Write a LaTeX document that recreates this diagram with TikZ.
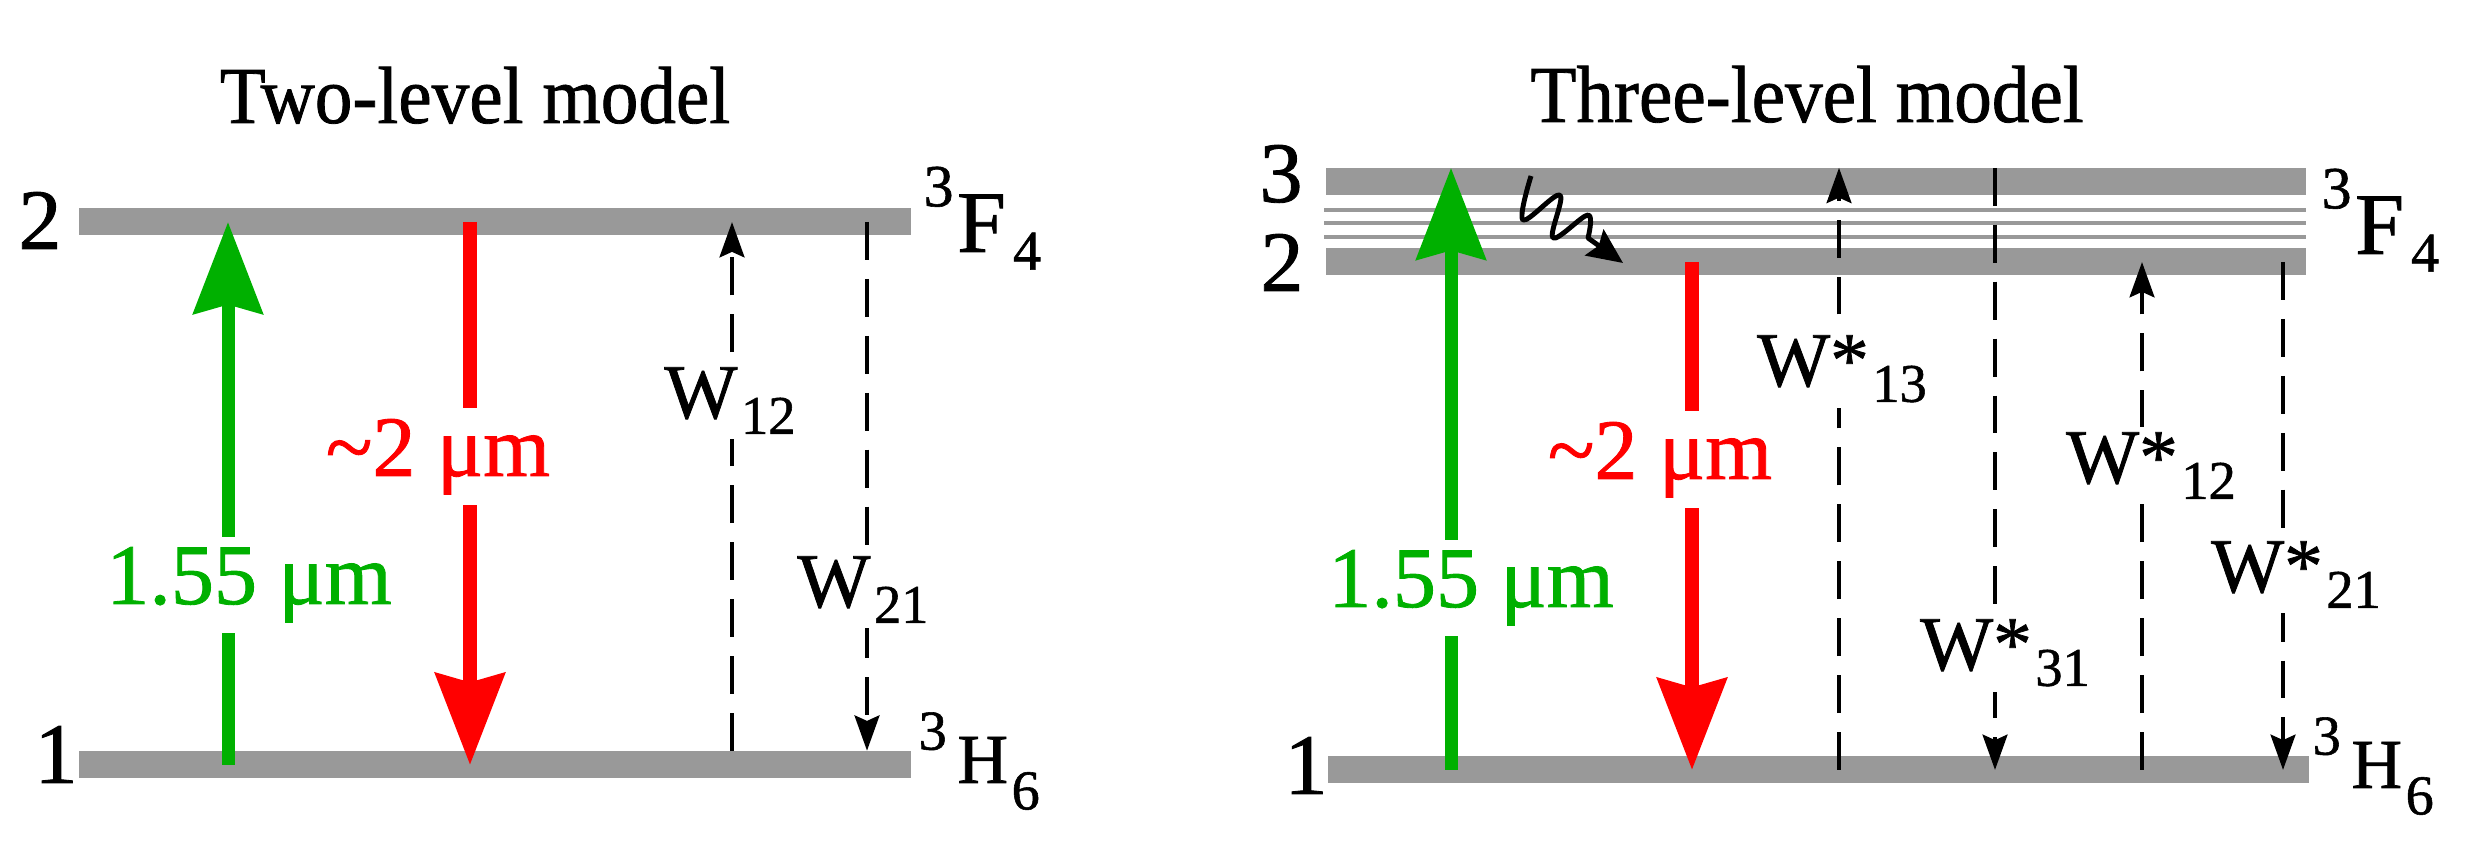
\documentclass[tikz,border=0pt]{standalone}
\usepackage{fontspec}
\setmainfont{Liberation Serif}[FakeBold=1]
\usetikzlibrary{arrows.meta}
\definecolor{level-gray}{HTML}{999999}
\definecolor{pump-green}{HTML}{00B000}
\definecolor{laser-red}{HTML}{FF0000}
\newcommand{\lowidx}[1]{\kern1pt\raisebox{-4.5pt}{\fontsize{15.5}{16}\selectfont #1}}

\begin{document}
\begin{tikzpicture}[
    lvl/.style={rectangle, fill=level-gray, inner sep=0pt, minimum height=0.27cm},
    sublvl/.style={draw=level-gray, line width=1.4pt},
    pump/.style={-{Stealth[length=26pt, width=19.5pt, inset=2.5pt]}, line width=3.7pt, color=pump-green},
    emit/.style={-{Stealth[length=26pt, width=19.5pt, inset=2.5pt]}, line width=3.9pt, color=laser-red},
    rate/.style={-{Stealth[length=10pt, width=7pt, inset=1.5pt]}, line width=1.4pt, dash pattern=on 10.8pt off 5.4pt},
    relax/.style={-{Stealth[length=10pt, width=9pt, inset=1.5pt]}, line width=1.4pt, line join=round},
    every node/.style={inner sep=0pt},
    title/.style={font=\fontsize{23}{27}\selectfont, anchor=base},
    lvnum/.style={font=\fontsize{24.5}{29}\selectfont, anchor=base},
    wavelen/.style={font=\fontsize{24.5}{29}\selectfont, anchor=base, fill=white, inner sep=3pt},
    ratelbl/.style={font=\fontsize{22}{26}\selectfont, anchor=base, fill=white, inner sep=1.5pt},
    term/.style={anchor=base west}
  ]
    \useasboundingbox (0,0) rectangle (24.71,8.41);

    % two-level model
    \node[title] (ttwo) at (4.75,7.18) {\scalebox{0.93}[1]{Two-level model}};
    \node[lvl, minimum width=8.32cm] (Ltwo) at (4.95,6.19) {};
    \node[lvl, minimum width=8.32cm] (Lone) at (4.95,0.76) {};
    \node[lvnum] (Ln2) at (0.40,5.92) {2};
    \node[lvnum] (Ln1) at (0.56,0.58) {1};
    \node[term] (LF) at (9.23,5.89) {\raisebox{13pt}{\fontsize{17}{18}\selectfont 3}\kern1pt\fontsize{25}{29}\selectfont F\kern2pt\raisebox{-5pt}{\fontsize{16}{17}\selectfont 4}};
    \node[term] (LH) at (9.18,0.58) {\raisebox{9.5pt}{\fontsize{16}{17}\selectfont 3}\kern3pt\fontsize{20}{24}\selectfont H\kern1pt\raisebox{-7.5pt}{\fontsize{16}{17}\selectfont 6}};

    \draw[pump] (Lone -| 2.28,0) -- (Ltwo -| 2.28,0);
    \draw[emit] (Ltwo -| 4.70,0) -- (Lone -| 4.70,0);
    \draw[rate] (Lone.north -| 7.32,0) -- (Ltwo -| 7.32,0);
    \draw[rate] (Ltwo -| 8.67,0) -- (Lone.north -| 8.67,0);

    \node[wavelen, text=pump-green] (Lpump) at (2.49,2.37) {1.55 μm};
    \node[wavelen, text=laser-red] (Lemit) at (4.38,3.65) {\textasciitilde 2 μm};
    \node[ratelbl] (LW12) at (7.30,4.23) {W\lowidx{12}};
    \node[ratelbl] (LW21) at (8.63,2.34) {W\lowidx{21}};

    % three-level model
    \node[title] (tthree) at (18.07,7.19) {\scalebox{0.93}[1]{Three-level model}};
    \node[lvl, minimum width=9.80cm] (Rthree) at (18.16,6.59) {};
    \foreach \y in {6.31,6.18,6.04}
      \draw[sublvl] (13.24,\y) -- (23.06,\y);
    \node[lvl, minimum width=9.80cm] (Rtwo) at (18.16,5.79) {};
    \node[lvl, minimum width=9.81cm] (Rone) at (18.185,0.71) {};
    \node[lvnum] (Rn3) at (12.81,6.39) {3};
    \node[lvnum] (Rn2) at (12.82,5.50) {2};
    \node[lvnum] (Rn1) at (13.06,0.47) {1};
    \node[term] (RF) at (23.21,5.87) {\raisebox{13pt}{\fontsize{17}{18}\selectfont 3}\kern1pt\fontsize{25}{29}\selectfont F\kern2pt\raisebox{-5pt}{\fontsize{16}{17}\selectfont 4}};
    \node[term] (RH) at (23.12,0.53) {\raisebox{9.5pt}{\fontsize{16}{17}\selectfont 3}\kern3pt\fontsize{20}{24}\selectfont H\kern1pt\raisebox{-7.5pt}{\fontsize{16}{17}\selectfont 6}};

    % nonradiative decay 3 -> 2
    \coordinate (relaxA) at (15.31,6.65);
    \coordinate (relaxB) at (16.23,5.78);
    \draw[relax] plot[smooth, tension=0.6] coordinates {(relaxA) (15.23,6.21) (15.60,6.46) (15.53,6.03) (15.88,6.26) (15.88,6.03)} -- (relaxB);

    \draw[pump] (Rone -| 14.51,0) -- (Rthree.north -| 14.51,0);
    \draw[emit] (Rtwo -| 16.92,0) -- (Rone -| 16.92,0);
    \draw[rate] (Rone -| 18.39,0) -- (Rthree.north -| 18.39,0);
    \draw[rate] (Rthree.north -| 19.95,0) -- (Rone -| 19.95,0);
    \draw[rate] (Rone -| 21.42,0) -- (Rtwo -| 21.42,0);
    \draw[rate] (Rtwo -| 22.83,0) -- (Rone -| 22.83,0);

    \node[wavelen, text=pump-green] (Rpump) at (14.71,2.34) {1.55 μm};
    \node[wavelen, text=laser-red] (Remit) at (16.60,3.62) {\textasciitilde 2 μm};
    \node[ratelbl] (RW13) at (18.42,4.55) {W*\lowidx{13}};
    \node[ratelbl] (RW31) at (20.05,1.71) {W*\lowidx{31}};
    \node[ratelbl] (RW12) at (21.51,3.58) {W*\lowidx{12}};
    \node[ratelbl] (RW21) at (22.96,2.49) {W*\lowidx{21}};
  \end{tikzpicture}
\end{document}
